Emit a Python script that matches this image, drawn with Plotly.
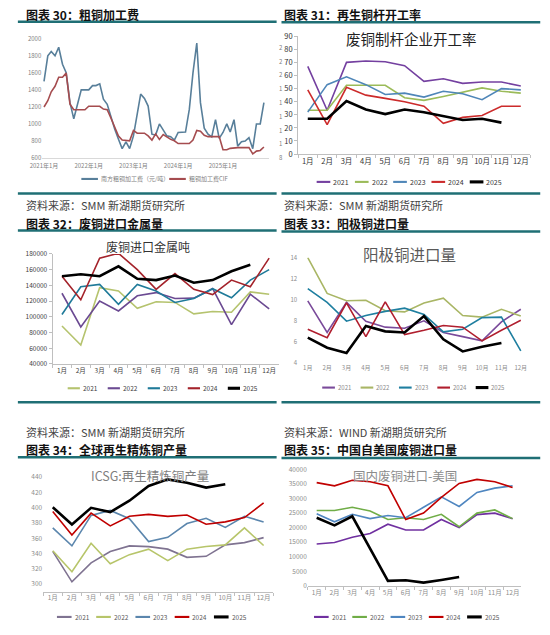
import pandas as pd
import plotly.graph_objects as go

W, H = 550, 635

# ---------------- data ----------------
months = ["1月", "2月", "3月", "4月", "5月", "6月",
          "7月", "8月", "9月", "10月", "11月", "12月"]
years = ["2021", "2022", "2023", "2024", "2025"]

# 图表30 粗铜加工费 (monthly, 2021-01 .. 2025-12)
tc_dates = pd.date_range("2021-01-01", periods=60, freq="MS")
tc_south = [1500, 1800, 1850, 1800, 1900, 1700, 1600, 1250, 1060, 1230,
            1400, 1400, 1400, 1450, 1450, 1470, 1290, 1230, 1080, 940,
            820, 710, 790, 710, 860, 1100, 1350, 1300, 1210, 880,
            870, 1000, 920, 860, 850, 810, 900, 900, 905, 1170,
            1600, 1950, 1250, 950, 880, 847, 1050, 830, 900, 1000,
            905, 1050, 740, 790, 800, 840, 710, 1000, 1000, 1250]
tc_cif = [154, 163, 176, 184, 197, 197, 203, 158, 150, 150,
          150, 150, 155, 155, 155, 155, 151, 150, 138, 125,
          112, 106, 105, 105, 120, 116, 116, 116, 112, 106,
          115, 107, 114, 110, 107, 105, 101, 101, 101, 101,
          106, 120, 119, 113, 111, 111, 111, 111, 92, 92,
          94, 95, 95, 95, 95, 95, 86, 90, 91, 96]
tc_year_ticks = ["2021-01-01", "2022-01-01", "2023-01-01", "2024-01-01", "2025-01-01"]
tc_year_labels = ["2021年1月", "2022年1月", "2023年1月", "2024年1月", "2025年1月"]
cif_ticks = [80, 100, 120, 140, 160, 180, 200, 220, 240]

# 图表31 废铜制杆企业开工率
rod_2021 = [67, 33.5, 70, 71, 70.5, 67.5, 55.5, 57.5, 54, 55, 55, 52]
rod_2022 = [33.5, 33.5, 52.5, 52.5, 52.5, 43, 41, 44, 47.5, 50.5, 48, 46.5]
rod_2023 = [32, 53, 59, 53, 45.5, 46.5, 43.5, 48, 46, 41.5, 50, 49]
rod_2024 = [49, 22.5, 51, 45, 42.5, 40, 36.5, 23.5, 28, 29.5, 36.5, 36.5]
rod_2025 = [27, 27, 40.5, 34, 30.5, 34, 32, 29, 26, 27, 24]

# 图表32 废铜进口金属量 (吨)
scrap_2021 = [88300, 64200, 137100, 132900, 110800, 119200, 118300, 103750, 106700, 105800, 131700, 128750]
scrap_2022 = [130000, 87100, 120000, 107500, 126700, 130800, 123300, 123750, 135800, 90000, 128750, 110000]
scrap_2023 = [102900, 138300, 141250, 115800, 141250, 132900, 118300, 123300, 135800, 124200, 146700, 160000]
scrap_2024 = [151700, 121700, 174600, 180800, 160000, 135000, 155000, 135000, 128300, 146700, 138300, 174600]
scrap_2025 = [151700, 154200, 151700, 164200, 148300, 146700, 152500, 143300, 146700, 157900, 166250]

# 图表33 阳极铜进口量
anode_2021 = [9.9, 6.9, 9.75, 7.95, 7.4, 7.3, 8.0, 6.9, 6.5, 6.1, 7.9, 9.1]
anode_2022 = [14, 10.6, 9.9, 9.95, 8.95, 8.85, 9.7, 10.15, 8.5, 8.35, 9.1, 8.45]
anode_2023 = [11.05, 9.75, 7.97, 8.5, 8.9, 9.2, 8.6, 6.95, 7.2, 8.3, 8.35, 5.15]
anode_2024 = [7.2, 6.4, 9.7, 6.5, 9.8, 6.7, 7.1, 7.55, 7.4, 6.1, 7.1, 8.05]
anode_2025 = [6.4, 5.45, 4.95, 7.5, 7.0, 6.9, 8.45, 6.25, 5.1, 5.55, 5.9]

# 图表34 ICSG 再生精炼铜产量
icsg_2021 = [342.7, 302.9, 327.7, 342.7, 350, 349, 345.7, 335, 336.3, 351.3, 354.3, 360.8]
icsg_2022 = [343.6, 316.2, 353.5, 326.5, 338.5, 345.7, 330.7, 345.7, 349.2, 351.3, 373.6, 350.5]
icsg_2023 = [373.6, 350, 389.9, 396.4, 385.6, 355.6, 361.2, 379.2, 386.1, 374.1, 388.7, 381.4]
icsg_2024 = [395.1, 364.2, 392.9, 376.2, 388.7, 391.2, 388.7, 390.4, 378.4, 381.4, 387, 406.2]
icsg_2025 = [400.7, 377.9, 399.8, 394.2, 409.2, 428.5, 437.1, 432.8, 426.4, 430.7]

# 图表35 中国自美国废铜进口量
us_2021 = [14400, 14900, 16700, 18000, 21200, 19200, 19200, 22800, 20000, 24500, 25000, 23100]
us_2022 = [25900, 25900, 27000, 25700, 22800, 23400, 22800, 24600, 20300, 25000, 26100, 23100]
us_2023 = [24800, 22000, 24600, 23100, 24200, 23400, 27000, 30600, 27300, 32100, 33600, 34400]
us_2024 = [35500, 34400, 36300, 35800, 34400, 22800, 25000, 30400, 35200, 36600, 35800, 33800]
us_2025 = [23400, 20800, 23900, 12800, 1700, 1900, 1100, 2000, 3000]

# ---------------- helpers ----------------
CJK = "Noto Sans CJK SC, sans-serif"
TEAL = "#1f6f75"


def px(x):
    return x / W


def py(y):
    return 1 - y / H


fig = go.Figure()
shapes = []
annotations = []


def text(x, y, s, size=7, color="#595959", anchor="left", bold=False, family=CJK):
    annotations.append(dict(
        x=px(x), y=py(y), xref="paper", yref="paper", text=s,
        showarrow=False, xanchor=anchor, yanchor="middle",
        font=dict(family=family, size=size, color=color,
                  weight="bold" if bold else "normal"),
    ))


def rule(x0, x1, y, width=2.5, color=TEAL):
    shapes.append(dict(type="line", xref="paper", yref="paper",
                       x0=px(x0), x1=px(x1), y0=py(y), y1=py(y),
                       line=dict(color=color, width=width)))


def legend_row(x0, step, y, labels, colors, widths, sample=14, size=6.5, color="#595959"):
    for i, (lab, c, w) in enumerate(zip(labels, colors, widths)):
        xs = x0 + i * step
        shapes.append(dict(type="line", xref="paper", yref="paper",
                           x0=px(xs), x1=px(xs + sample), y0=py(y), y1=py(y),
                           line=dict(color=c, width=w + 0.5)))
        text(xs + sample + 1, y, lab, size=size, color=color)


def year_panel(n, series, colors, widths, dom_x, dom_y, yrange, dtick,
               tickfont, show_xline=True, show_yline=False):
    ax = str(n)
    for vals, c, w, yr in zip(series, colors, widths, years):
        fig.add_trace(go.Scatter(
            x=months[:len(vals)], y=vals, mode="lines", name=yr,
            line=dict(color=c, width=w), xaxis="x" + ax, yaxis="y" + ax,
            showlegend=False,
        ))
    fig.layout["xaxis" + ax] = dict(
        domain=[px(dom_x[0]), px(dom_x[1])], anchor="y" + ax,
        type="category", categoryorder="array", categoryarray=months,
        range=[-0.5, 11.5], showgrid=False, zeroline=False,
        showline=show_xline, linecolor="#bfbfbf", linewidth=1,
        ticks="outside", tickson="boundaries", ticklen=3,
        tickcolor="#bfbfbf" if show_xline else "rgba(0,0,0,0)",
        tickangle=0, tickfont=tickfont,
    )
    fig.layout["yaxis" + ax] = dict(
        domain=[py(dom_y[1]), py(dom_y[0])], anchor="x" + ax,
        range=yrange, dtick=dtick, tickformat="d", showgrid=False, zeroline=False,
        showline=show_yline, linecolor="#bfbfbf", linewidth=1,
        ticks="outside" if show_yline else "", ticklen=3, tickcolor="#bfbfbf",
        tickfont=tickfont,
    )


# ---------------- 图表30 ----------------
fig.add_trace(go.Scatter(x=tc_dates, y=tc_south, mode="lines", name="南方粗铜加工费（元/吨）",
                         line=dict(color="#587f9a", width=1.6), xaxis="x", yaxis="y",
                         showlegend=False))
fig.add_trace(go.Scatter(x=tc_dates, y=tc_cif, mode="lines", name="粗铜加工费CIF",
                         line=dict(color="#a54c4f", width=1.6), xaxis="x", yaxis="y7",
                         showlegend=False))
f30 = dict(family=CJK, size=6, color="#7f7f7f")
fig.layout["xaxis"] = dict(
    domain=[px(30), px(262)], anchor="y", type="date",
    range=["2020-12-18", "2026-01-10"], tickvals=tc_year_ticks, ticktext=tc_year_labels,
    showgrid=False, zeroline=False, showline=True, linecolor="#d9d9d9",
    ticks="outside", ticklen=2, tickcolor="rgba(0,0,0,0)", tickangle=0, tickfont=f30,
)
fig.layout["yaxis"] = dict(
    domain=[py(154.7), py(33.3)], anchor="x", range=[600, 2000], dtick=200,
    showgrid=False, zeroline=False, showline=False, tickfont=f30,
)
fig.layout["yaxis7"] = dict(
    overlaying="y", side="right", anchor="x", range=[80, 252.9],
    tickvals=cif_ticks, ticktext=[str(v)[0] for v in cif_ticks],
    showgrid=False, zeroline=False, ticks="outside", ticklen=8,
    tickcolor="rgba(0,0,0,0)", tickfont=f30,
)
legend_row(70, 90, 176, ["南方粗铜加工费（元/吨）"], ["#587f9a"], [1.6], sample=17, size=6, color="#7f7f7f")
legend_row(160, 90, 176, ["粗铜加工费CIF"], ["#a54c4f"], [1.6], sample=17, size=6, color="#7f7f7f")

# ---------------- 图表31 ----------------
c31 = ["#7440a0", "#9bbb59", "#4f86b8", "#cc2b2b", "#000000"]
w31 = [1.6, 1.6, 1.6, 1.6, 2.6]
year_panel(2, [rod_2021, rod_2022, rod_2023, rod_2024, rod_2025], c31, w31,
           (292, 530), (30.7, 150.7), [0, 90], 10,
           dict(family=CJK, size=7.5, color="#333333"), show_xline=True, show_yline=True)
text(408, 33, "废铜制杆企业开工率", size=14.5, color="#222222", anchor="center")
legend_row(311, 39.2, 179, years, c31, w31, sample=14, size=7, color="#333333")

# ---------------- 图表32 ----------------
c32 = ["#b5c36e", "#6b4a92", "#1f7a99", "#a4232b", "#000000"]
w32 = [1.6, 1.6, 1.6, 1.6, 2.6]
year_panel(3, [scrap_2021, scrap_2022, scrap_2023, scrap_2024, scrap_2025], c32, w32,
           (40.5, 272), (252.3, 364.3), [40000, 180000], 20000,
           dict(family=CJK, size=6.5, color="#404040"), show_xline=True, show_yline=True)
text(138, 245, "废铜进口金属吨", size=12, color="#333333", anchor="center")
legend_row(56, 41, 389, years, c32, w32, sample=12.5, size=6.5, color="#404040")

# ---------------- 图表33 ----------------
c33 = ["#7a4a9a", "#a9b665", "#1f7fa0", "#b01e2e", "#000000"]
w33 = [1.6, 1.6, 1.6, 1.6, 2.6]
year_panel(4, [anode_2021, anode_2022, anode_2023, anode_2024, anode_2025], c33, w33,
           (292, 530), (256, 363.3), [4, 14], 2,
           dict(family=CJK, size=6, color="#8c8c8c"), show_xline=False, show_yline=False)
text(406, 252, "阳极铜进口量", size=15.5, color="#595959", anchor="center")
legend_row(316.7, 39.3, 388.3, years, c33, w33, sample=13, size=6, color="#8c8c8c")

# ---------------- 图表34 ----------------
c34 = ["#7f7391", "#b7c56a", "#5b86ad", "#c00000", "#000000"]
w34 = [1.6, 1.6, 1.6, 1.6, 2.6]
year_panel(5, [icsg_2021, icsg_2022, icsg_2023, icsg_2024, icsg_2025], c34, w34,
           (30.9, 266.5), (471.7, 596), [290, 450], 20,
           dict(family=CJK, size=6.5, color="#8c8c8c"), show_xline=True, show_yline=False)
text(140, 477.5, "ICSG:再生精炼铜产量", size=12.5, color="#7f7f7f", anchor="center")
legend_row(45, 40.2, 621.7, years, c34, w34, sample=15, size=6.5, color="#595959")

# ---------------- 图表35 ----------------
c35 = ["#7030a0", "#70ad47", "#4f86c0", "#c00000", "#000000"]
w35 = [1.6, 1.6, 1.6, 1.6, 2.6]
year_panel(6, [us_2021, us_2022, us_2023, us_2024, us_2025], c35, w35,
           (301.9, 520.8), (471.7, 590), [0, 40000], 5000,
           dict(family=CJK, size=6.5, color="#8c8c8c"), show_xline=True, show_yline=False)
text(401.7, 477.5, "国内废铜进口-美国", size=12.5, color="#8c8c8c", anchor="center")
legend_row(308.3, 39.2, 621.7, years, c35, w35, sample=15, size=6.5, color="#595959")

# ---------------- headers, rules, sources ----------------
HEAD = dict(size=12, color="#111111", bold=True)
SRC = dict(size=11, color="#444444")

text(11.7, 8.5, "图表 30：粗铜加工费", **HEAD)
text(275, 8.5, "图表 31：再生铜杆开工率", **HEAD)
rule(5, 270, 16)
rule(275, 540, 16.5)
rule(5, 270, 190.7)
rule(275, 540, 190.7)

text(11.7, 203, "资料来源：SMM 新湖期货研究所", **SRC)
text(275, 203, "资料来源：SMM 新湖期货研究所", **SRC)
text(11.7, 221, "图表 32：废铜进口金属量", **HEAD)
text(275, 221, "图表 33：阳极铜进口量", **HEAD)
rule(5, 270, 228.5)
rule(275, 540, 229.5)
rule(5, 270, 403.3)
rule(275, 540, 403.3)

text(11.7, 433.3, "资料来源：SMM 新湖期货研究所", **SRC)
text(275, 433.3, "资料来源：WIND 新湖期货研究所", **SRC)
text(11.7, 451.7, "图表 34：全球再生精炼铜产量", **HEAD)
text(275, 451.7, "图表 35：中国自美国废铜进口量", **HEAD)
rule(5, 270, 459.3)
rule(275, 540, 460)

fig.update_layout(
    width=W, height=H, margin=dict(l=0, r=0, t=0, b=0),
    paper_bgcolor="white", plot_bgcolor="white",
    showlegend=False, shapes=shapes, annotations=annotations,
    font=dict(family=CJK),
)

# drop the browser's default 8px body margin so the figure fills the window
fig.write_html("out.html", config={"displayModeBar": False},
               post_script="document.body.style.margin = '0px';")
